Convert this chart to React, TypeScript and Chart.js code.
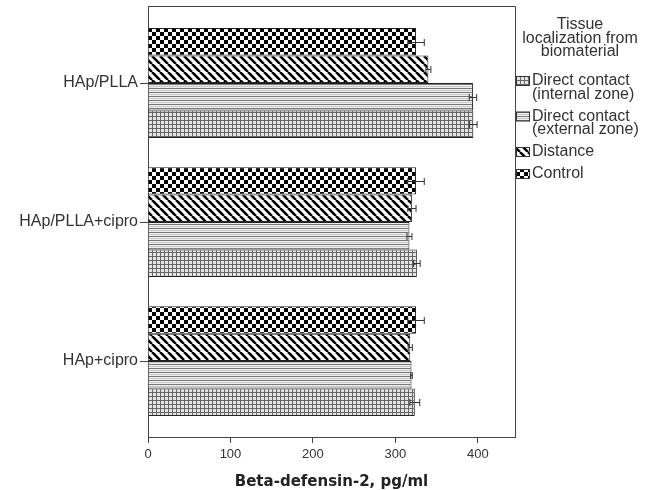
import React, { useEffect, useRef } from "react";
import { Chart, registerables } from "chart.js";

Chart.register(...registerables);

const categories = ["HAp/PLLA", "HAp/PLLA+cipro", "HAp+cipro"];
const seriesLabels = ["Control", "Distance", "Direct contact\n(external zone)", "Direct contact\n(internal zone)"];
const control = [325, 325, 325];
const controlErr = [10, 10, 10];
const distance = [340, 320, 318];
const distanceErr = [3, 5, 2.5];
const external = [394, 317, 319.5];
const externalErr = [4.5, 3, 1];
const internal = [394.5, 326, 323.5];
const internalErr = [4.5, 4, 6];
const xTicks = [0, 100, 200, 300, 400];
const xMax = 445;
const legendTitle = ["Tissue", "localization from", "biomaterial"];
const xTitle = "Beta-defensin-2, pg/ml";

const FONT = "'Liberation Sans', Arial, sans-serif";

function makeTile(w: number, h: number, draw: (c: CanvasRenderingContext2D) => void) {
  const cv = document.createElement("canvas");
  cv.width = w;
  cv.height = h;
  const c = cv.getContext("2d")!;
  c.fillStyle = "#ffffff";
  c.fillRect(0, 0, w, h);
  draw(c);
  return cv;
}

function makePatterns(ctx: CanvasRenderingContext2D) {
  const checker = makeTile(8, 8, (c) => {
    c.fillStyle = "#000";
    c.fillRect(0, 0, 4, 4);
    c.fillRect(4, 4, 4, 4);
  });
  const diag = makeTile(8, 8, (c) => {
    c.strokeStyle = "#000";
    c.lineWidth = 2.6;
    for (const x of [-8, 0, 8]) {
      c.beginPath();
      c.moveTo(x, 0);
      c.lineTo(x + 8, 8);
      c.stroke();
    }
  });
  const hlines = makeTile(4, 4, (c) => {
    c.fillStyle = "#f0f0f0";
    c.fillRect(0, 0, 4, 4);
    c.fillStyle = "#777";
    c.fillRect(0, 0, 4, 1);
    c.fillStyle = "#c8c8c8";
    c.fillRect(0, 2, 4, 1);
  });
  const grid = makeTile(4, 4, (c) => {
    c.fillStyle = "#e4e4e4";
    c.fillRect(0, 0, 4, 4);
    c.fillStyle = "#666";
    c.fillRect(0, 0, 4, 1);
    c.fillRect(0, 0, 1, 4);
  });
  return [
    ctx.createPattern(checker, "repeat")!,
    ctx.createPattern(diag, "repeat")!,
    ctx.createPattern(hlines, "repeat")!,
    ctx.createPattern(grid, "repeat")!,
  ];
}

export default function App() {
  const ref = useRef<HTMLCanvasElement>(null);

  useEffect(() => {
    const canvas = ref.current!;
    const ctx = canvas.getContext("2d")!;
    const patterns = makePatterns(ctx);
    const values = [control, distance, external, internal];
    const errors = [controlErr, distanceErr, externalErr, internalErr];

    const errorBars = {
      id: "errorBars",
      afterDatasetsDraw(chart: any) {
        const c = chart.ctx;
        const xs = chart.scales.x;
        c.save();
        c.strokeStyle = "#333";
        c.lineWidth = 1;
        chart.data.datasets.forEach((ds: any, di: number) => {
          const meta = chart.getDatasetMeta(di);
          meta.data.forEach((bar: any, i: number) => {
            const v = values[di][i];
            const e = errors[di][i];
            const x1 = xs.getPixelForValue(v - e);
            const x2 = xs.getPixelForValue(v + e);
            const y = Math.round(bar.y) + 0.5;
            c.beginPath();
            c.moveTo(x1, y);
            c.lineTo(x2, y);
            c.moveTo(x1, y - 3.5);
            c.lineTo(x1, y + 3.5);
            c.moveTo(x2, y - 3.5);
            c.lineTo(x2, y + 3.5);
            c.stroke();
          });
        });
        c.restore();
      },
    };

    const frameAndLegend = {
      id: "frameAndLegend",
      afterDraw(chart: any) {
        const c = chart.ctx;
        const a = chart.chartArea;
        c.save();
        c.strokeStyle = "#444";
        c.lineWidth = 1;
        c.beginPath();
        c.moveTo(a.left, a.top + 0.5);
        c.lineTo(a.right + 0.5, a.top + 0.5);
        c.lineTo(a.right + 0.5, a.bottom);
        c.stroke();

        // legend
        c.fillStyle = "#333";
        c.font = `16px ${FONT}`;
        c.textBaseline = "middle";
        c.textAlign = "center";
        legendTitle.forEach((t, i) => c.fillText(t, 580, 25 + i * 13.5));
        c.textAlign = "left";
        let y = 81;
        const order = [3, 2, 1, 0];
        order.forEach((di) => {
          const lines = seriesLabels[di].split("\n");
          c.fillStyle = patterns[di];
          c.fillRect(516, y - 5, 14, 10);
          c.strokeStyle = "#333";
          c.strokeRect(516.5, y - 4.5, 13, 9);
          c.fillStyle = "#333";
          lines.forEach((l, li) => c.fillText(l, 532, y + li * 13.5));
          y += lines.length * 13.5 + 8.5;
        });
        c.restore();
      },
    };

    const chart = new Chart(canvas, {
      type: "bar",
      data: {
        datasets: values.map((vals, di) => ({
          label: seriesLabels[di],
          data: vals.map((v, i) => ({ x: v, y: i })),
          backgroundColor: patterns[di],
          borderColor: "#222",
          borderWidth: 1,
          categoryPercentage: 0.79,
          barPercentage: 1.0,
        })),
      },
      options: {
        indexAxis: "y",
        animation: false,
        responsive: false,
        devicePixelRatio: 1,
        layout: { padding: { left: 0, right: 133, top: 6, bottom: 0 } },
        plugins: {
          legend: { display: false },
          tooltip: { enabled: false },
        },
        scales: {
          y: {
            type: "linear",
            reverse: true,
            offset: false,
            min: -0.554,
            max: 2.546,
            afterBuildTicks: (scale: any) => {
              scale.ticks = categories.map((_, i) => ({ value: i }));
            },
            afterFit: (scale: any) => {
              scale.width = 148;
              scale.paddingTop = 0;
              scale.paddingBottom = 0;
            },
            ticks: {
              callback: (v: any) => categories[v as number] ?? "",
              color: "#333",
              font: { family: FONT, size: 16 },
              padding: 2,
            },
            grid: { drawOnChartArea: false, offset: false, tickLength: 8, color: "#444" },
            border: { display: true, color: "#444" },
          },
          x: {
            type: "linear",
            min: 0,
            max: xMax,
            afterBuildTicks: (scale: any) => {
              scale.ticks = xTicks.map((v) => ({ value: v }));
            },
            afterFit: (scale: any) => {
              scale.height = 53;
              scale.paddingLeft = 0;
              scale.paddingRight = 0;
            },
            ticks: {
              color: "#333",
              font: { family: FONT, size: 13 },
              padding: 4,
              maxRotation: 0,
            },
            grid: { drawOnChartArea: false, tickLength: 6, color: "#444" },
            border: { display: true, color: "#444" },
            title: {
              display: true,
              text: xTitle,
              color: "#222",
              font: { family: "'DejaVu Sans', Verdana, sans-serif", size: 15, weight: "bold", lineHeight: 1 },
              padding: { top: 0, bottom: 0 },
            },
          },
        },
      },
      plugins: [errorBars, frameAndLegend],
    } as any);

    return () => chart.destroy();
  }, []);

  return (
    <div style={{ position: "absolute", left: 0, top: 0, width: 648, height: 490, background: "#fff" }}>
      <canvas ref={ref} width={648} height={490} style={{ width: 648, height: 490, display: "block" }} />
    </div>
  );
}
